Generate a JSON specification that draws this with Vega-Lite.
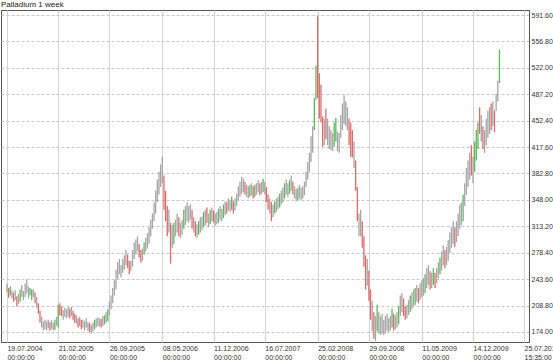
{
"$schema":"https://vega.github.io/schema/vega-lite/v6.json",
"width":528,"height":332,"autosize":"none",
"padding":{"left":1,"top":10,"right":24,"bottom":18},
"background":"#ffffff",
"title":{"text":"Palladium  1 week","anchor":"start","frame":"group","fontSize":8,"fontWeight":"normal","font":"Liberation Sans","color":"#222","offset":1},
"config":{"view":{"stroke":"#555","strokeWidth":1},"font":"Liberation Sans"},
"data":{"values":[
{"d":"2004-07-19","l":226,"h":238,"t":"n"},{"d":"2004-07-26","l":219,"h":232,"t":"d"},{"d":"2004-08-02","l":222,"h":234,"t":"u"},{"d":"2004-08-09","l":218,"h":229,"t":"n"},{"d":"2004-08-16","l":214,"h":226,"t":"d"},{"d":"2004-08-23","l":216,"h":229,"t":"n"},{"d":"2004-08-30","l":208,"h":221,"t":"d"},{"d":"2004-09-06","l":211,"h":224,"t":"n"},{"d":"2004-09-13","l":214,"h":230,"t":"u"},{"d":"2004-09-20","l":220,"h":236,"t":"n"},{"d":"2004-09-27","l":216,"h":228,"t":"n"},{"d":"2004-10-04","l":220,"h":238,"t":"n"},{"d":"2004-10-11","l":225,"h":243,"t":"n"},{"d":"2004-10-18","l":218,"h":234,"t":"n"},{"d":"2004-10-25","l":222,"h":232,"t":"u"},{"d":"2004-11-01","l":216,"h":230,"t":"u"},{"d":"2004-11-08","l":220,"h":230,"t":"n"},{"d":"2004-11-15","l":212,"h":226,"t":"d"},{"d":"2004-11-22","l":206,"h":220,"t":"n"},{"d":"2004-11-29","l":198,"h":212,"t":"d"},{"d":"2004-12-06","l":186,"h":202,"t":"d"},{"d":"2004-12-13","l":180,"h":194,"t":"n"},{"d":"2004-12-20","l":176,"h":188,"t":"n"},{"d":"2004-12-27","l":178,"h":190,"t":"n"},
{"d":"2005-01-03","l":176,"h":188,"t":"n"},{"d":"2005-01-10","l":179,"h":190,"t":"n"},{"d":"2005-01-17","l":176,"h":187,"t":"d"},{"d":"2005-01-24","l":178,"h":190,"t":"n"},{"d":"2005-01-31","l":176,"h":186,"t":"n"},{"d":"2005-02-07","l":177,"h":190,"t":"u"},{"d":"2005-02-14","l":182,"h":194,"t":"n"},{"d":"2005-02-21","l":180,"h":210,"t":"u"},{"d":"2005-02-28","l":196,"h":212,"t":"d"},{"d":"2005-03-07","l":195,"h":208,"t":"d"},{"d":"2005-03-14","l":190,"h":203,"t":"n"},{"d":"2005-03-21","l":194,"h":206,"t":"n"},{"d":"2005-03-28","l":192,"h":204,"t":"n"},{"d":"2005-04-04","l":194,"h":207,"t":"n"},{"d":"2005-04-11","l":192,"h":205,"t":"d"},{"d":"2005-04-18","l":195,"h":207,"t":"n"},{"d":"2005-04-25","l":190,"h":202,"t":"d"},{"d":"2005-05-02","l":186,"h":198,"t":"d"},{"d":"2005-05-09","l":185,"h":196,"t":"n"},{"d":"2005-05-16","l":180,"h":192,"t":"d"},{"d":"2005-05-23","l":182,"h":194,"t":"n"},{"d":"2005-05-30","l":178,"h":190,"t":"d"},{"d":"2005-06-06","l":180,"h":190,"t":"n"},{"d":"2005-06-13","l":176,"h":188,"t":"n"},{"d":"2005-06-20","l":180,"h":192,"t":"n"},{"d":"2005-06-27","l":176,"h":187,"t":"n"},{"d":"2005-07-04","l":174,"h":186,"t":"d"},{"d":"2005-07-11","l":172,"h":184,"t":"n"},{"d":"2005-07-18","l":175,"h":186,"t":"n"},{"d":"2005-07-25","l":178,"h":190,"t":"u"},{"d":"2005-08-01","l":180,"h":192,"t":"n"},{"d":"2005-08-08","l":182,"h":193,"t":"n"},{"d":"2005-08-15","l":181,"h":192,"t":"n"},{"d":"2005-08-22","l":180,"h":191,"t":"d"},{"d":"2005-08-29","l":182,"h":195,"t":"n"},{"d":"2005-09-05","l":184,"h":196,"t":"u"},{"d":"2005-09-12","l":186,"h":200,"t":"n"},{"d":"2005-09-19","l":188,"h":204,"t":"u"},{"d":"2005-09-26","l":196,"h":214,"t":"n"},{"d":"2005-10-03","l":204,"h":222,"t":"n"},{"d":"2005-10-10","l":212,"h":232,"t":"n"},{"d":"2005-10-17","l":222,"h":242,"t":"n"},{"d":"2005-10-24","l":230,"h":256,"t":"n"},{"d":"2005-10-31","l":244,"h":266,"t":"n"},{"d":"2005-11-07","l":250,"h":270,"t":"n"},{"d":"2005-11-14","l":246,"h":262,"t":"n"},{"d":"2005-11-21","l":252,"h":270,"t":"n"},{"d":"2005-11-28","l":256,"h":275,"t":"n"},{"d":"2005-12-05","l":262,"h":282,"t":"n"},{"d":"2005-12-12","l":258,"h":276,"t":"d"},{"d":"2005-12-19","l":250,"h":268,"t":"d"},{"d":"2005-12-26","l":254,"h":268,"t":"n"},
{"d":"2006-01-02","l":260,"h":282,"t":"n"},{"d":"2006-01-09","l":270,"h":292,"t":"n"},{"d":"2006-01-16","l":276,"h":296,"t":"n"},{"d":"2006-01-23","l":280,"h":300,"t":"n"},{"d":"2006-01-30","l":272,"h":290,"t":"d"},{"d":"2006-02-06","l":266,"h":282,"t":"d"},{"d":"2006-02-13","l":268,"h":284,"t":"n"},{"d":"2006-02-20","l":276,"h":292,"t":"u"},{"d":"2006-02-27","l":280,"h":298,"t":"n"},{"d":"2006-03-06","l":284,"h":304,"t":"n"},{"d":"2006-03-13","l":290,"h":312,"t":"n"},{"d":"2006-03-20","l":300,"h":322,"t":"n"},{"d":"2006-03-27","l":310,"h":330,"t":"n"},{"d":"2006-04-03","l":320,"h":345,"t":"n"},{"d":"2006-04-10","l":330,"h":360,"t":"n"},{"d":"2006-04-17","l":345,"h":375,"t":"n"},{"d":"2006-04-24","l":355,"h":385,"t":"n"},{"d":"2006-05-01","l":365,"h":395,"t":"n"},{"d":"2006-05-08","l":370,"h":405,"t":"n"},{"d":"2006-05-15","l":335,"h":380,"t":"d"},{"d":"2006-05-22","l":320,"h":360,"t":"d"},{"d":"2006-05-29","l":300,"h":340,"t":"d"},{"d":"2006-06-05","l":305,"h":335,"t":"n"},{"d":"2006-06-12","l":264,"h":318,"t":"d"},{"d":"2006-06-19","l":285,"h":315,"t":"n"},{"d":"2006-06-26","l":290,"h":318,"t":"u"},{"d":"2006-07-03","l":300,"h":322,"t":"n"},{"d":"2006-07-10","l":305,"h":330,"t":"n"},{"d":"2006-07-17","l":300,"h":325,"t":"d"},{"d":"2006-07-24","l":298,"h":318,"t":"n"},{"d":"2006-07-31","l":302,"h":322,"t":"n"},{"d":"2006-08-07","l":310,"h":335,"t":"u"},{"d":"2006-08-14","l":315,"h":340,"t":"n"},{"d":"2006-08-21","l":320,"h":345,"t":"n"},{"d":"2006-08-28","l":318,"h":340,"t":"n"},{"d":"2006-09-04","l":322,"h":342,"t":"n"},{"d":"2006-09-11","l":310,"h":335,"t":"d"},{"d":"2006-09-18","l":305,"h":325,"t":"n"},{"d":"2006-09-25","l":300,"h":320,"t":"d"},{"d":"2006-10-02","l":298,"h":316,"t":"n"},{"d":"2006-10-09","l":302,"h":320,"t":"u"},{"d":"2006-10-16","l":305,"h":325,"t":"n"},{"d":"2006-10-23","l":308,"h":326,"t":"n"},{"d":"2006-10-30","l":312,"h":332,"t":"u"},{"d":"2006-11-06","l":315,"h":335,"t":"n"},{"d":"2006-11-13","l":318,"h":338,"t":"d"},{"d":"2006-11-20","l":312,"h":330,"t":"n"},{"d":"2006-11-27","l":316,"h":335,"t":"u"},{"d":"2006-12-04","l":320,"h":338,"t":"n"},{"d":"2006-12-11","l":318,"h":334,"t":"d"},{"d":"2006-12-18","l":314,"h":330,"t":"n"},{"d":"2006-12-25","l":316,"h":332,"t":"n"},
{"d":"2007-01-01","l":318,"h":336,"t":"u"},{"d":"2007-01-08","l":322,"h":340,"t":"n"},{"d":"2007-01-15","l":320,"h":336,"t":"n"},{"d":"2007-01-22","l":324,"h":342,"t":"u"},{"d":"2007-01-29","l":328,"h":346,"t":"n"},{"d":"2007-02-05","l":330,"h":345,"t":"d"},{"d":"2007-02-12","l":334,"h":350,"t":"n"},{"d":"2007-02-19","l":332,"h":348,"t":"n"},{"d":"2007-02-26","l":335,"h":352,"t":"u"},{"d":"2007-03-05","l":330,"h":346,"t":"d"},{"d":"2007-03-12","l":334,"h":350,"t":"n"},{"d":"2007-03-19","l":340,"h":356,"t":"n"},{"d":"2007-03-26","l":348,"h":366,"t":"n"},{"d":"2007-04-02","l":352,"h":372,"t":"n"},{"d":"2007-04-09","l":356,"h":378,"t":"n"},{"d":"2007-04-16","l":358,"h":376,"t":"n"},{"d":"2007-04-23","l":355,"h":372,"t":"d"},{"d":"2007-04-30","l":352,"h":368,"t":"n"},{"d":"2007-05-07","l":350,"h":366,"t":"n"},{"d":"2007-05-14","l":352,"h":368,"t":"u"},{"d":"2007-05-21","l":354,"h":370,"t":"n"},{"d":"2007-05-28","l":350,"h":366,"t":"d"},{"d":"2007-06-04","l":352,"h":368,"t":"u"},{"d":"2007-06-11","l":355,"h":370,"t":"n"},{"d":"2007-06-18","l":358,"h":374,"t":"n"},{"d":"2007-06-25","l":354,"h":370,"t":"d"},{"d":"2007-07-02","l":356,"h":372,"t":"n"},{"d":"2007-07-09","l":358,"h":376,"t":"u"},{"d":"2007-07-16","l":355,"h":372,"t":"n"},{"d":"2007-07-23","l":345,"h":365,"t":"d"},{"d":"2007-07-30","l":335,"h":355,"t":"d"},{"d":"2007-08-06","l":330,"h":350,"t":"n"},{"d":"2007-08-13","l":320,"h":345,"t":"d"},{"d":"2007-08-20","l":325,"h":342,"t":"n"},{"d":"2007-08-27","l":330,"h":346,"t":"u"},{"d":"2007-09-03","l":332,"h":350,"t":"n"},{"d":"2007-09-10","l":336,"h":352,"t":"n"},{"d":"2007-09-17","l":338,"h":356,"t":"u"},{"d":"2007-09-24","l":342,"h":360,"t":"n"},{"d":"2007-10-01","l":345,"h":364,"t":"n"},{"d":"2007-10-08","l":350,"h":370,"t":"u"},{"d":"2007-10-15","l":355,"h":375,"t":"n"},{"d":"2007-10-22","l":352,"h":370,"t":"n"},{"d":"2007-10-29","l":356,"h":374,"t":"u"},{"d":"2007-11-05","l":360,"h":380,"t":"n"},{"d":"2007-11-12","l":355,"h":372,"t":"d"},{"d":"2007-11-19","l":350,"h":366,"t":"n"},{"d":"2007-11-26","l":346,"h":362,"t":"n"},{"d":"2007-12-03","l":348,"h":364,"t":"u"},{"d":"2007-12-10","l":350,"h":368,"t":"n"},{"d":"2007-12-17","l":348,"h":364,"t":"n"},{"d":"2007-12-24","l":350,"h":366,"t":"n"},{"d":"2007-12-31","l":354,"h":372,"t":"n"},
{"d":"2008-01-07","l":365,"h":385,"t":"n"},{"d":"2008-01-14","l":375,"h":398,"t":"n"},{"d":"2008-01-21","l":385,"h":410,"t":"n"},{"d":"2008-01-28","l":398,"h":432,"t":"n"},{"d":"2008-02-04","l":410,"h":445,"t":"n"},{"d":"2008-02-11","l":440,"h":482,"t":"u"},{"d":"2008-02-18","l":480,"h":525,"t":"u"},{"d":"2008-02-25","l":482,"h":590,"t":"d"},{"d":"2008-03-03","l":455,"h":515,"t":"d"},{"d":"2008-03-10","l":450,"h":500,"t":"d"},{"d":"2008-03-17","l":418,"h":458,"t":"d"},{"d":"2008-03-24","l":420,"h":455,"t":"n"},{"d":"2008-03-31","l":428,"h":468,"t":"d"},{"d":"2008-04-07","l":420,"h":455,"t":"n"},{"d":"2008-04-14","l":415,"h":445,"t":"n"},{"d":"2008-04-21","l":414,"h":440,"t":"n"},{"d":"2008-04-28","l":412,"h":436,"t":"n"},{"d":"2008-05-05","l":418,"h":450,"t":"u"},{"d":"2008-05-12","l":425,"h":456,"t":"u"},{"d":"2008-05-19","l":412,"h":438,"t":"n"},{"d":"2008-05-26","l":410,"h":436,"t":"n"},{"d":"2008-06-02","l":430,"h":460,"t":"n"},{"d":"2008-06-09","l":440,"h":475,"t":"n"},{"d":"2008-06-16","l":448,"h":486,"t":"n"},{"d":"2008-06-23","l":445,"h":478,"t":"n"},{"d":"2008-06-30","l":440,"h":470,"t":"n"},{"d":"2008-07-07","l":420,"h":455,"t":"d"},{"d":"2008-07-14","l":405,"h":450,"t":"d"},{"d":"2008-07-21","l":404,"h":440,"t":"d"},{"d":"2008-07-28","l":390,"h":425,"t":"n"},{"d":"2008-08-04","l":360,"h":400,"t":"d"},{"d":"2008-08-11","l":320,"h":365,"t":"d"},{"d":"2008-08-18","l":300,"h":330,"t":"n"},{"d":"2008-08-25","l":300,"h":335,"t":"n"},{"d":"2008-09-01","l":285,"h":320,"t":"d"},{"d":"2008-09-08","l":260,"h":300,"t":"d"},{"d":"2008-09-15","l":230,"h":275,"t":"d"},{"d":"2008-09-22","l":235,"h":270,"t":"n"},{"d":"2008-09-29","l":215,"h":255,"t":"d"},{"d":"2008-10-06","l":190,"h":230,"t":"d"},{"d":"2008-10-13","l":175,"h":215,"t":"n"},{"d":"2008-10-20","l":165,"h":200,"t":"d"},{"d":"2008-10-27","l":162,"h":195,"t":"n"},{"d":"2008-11-03","l":175,"h":210,"t":"u"},{"d":"2008-11-10","l":172,"h":200,"t":"n"},{"d":"2008-11-17","l":170,"h":195,"t":"n"},{"d":"2008-11-24","l":172,"h":198,"t":"n"},{"d":"2008-12-01","l":170,"h":190,"t":"n"},{"d":"2008-12-08","l":172,"h":195,"t":"n"},{"d":"2008-12-15","l":176,"h":198,"t":"n"},{"d":"2008-12-22","l":174,"h":192,"t":"n"},{"d":"2008-12-29","l":176,"h":195,"t":"n"},
{"d":"2009-01-05","l":180,"h":205,"t":"u"},{"d":"2009-01-12","l":176,"h":198,"t":"d"},{"d":"2009-01-19","l":178,"h":196,"t":"n"},{"d":"2009-01-26","l":180,"h":200,"t":"n"},{"d":"2009-02-02","l":184,"h":208,"t":"u"},{"d":"2009-02-09","l":195,"h":222,"t":"n"},{"d":"2009-02-16","l":200,"h":225,"t":"n"},{"d":"2009-02-23","l":195,"h":218,"t":"d"},{"d":"2009-03-02","l":190,"h":208,"t":"d"},{"d":"2009-03-09","l":192,"h":210,"t":"n"},{"d":"2009-03-16","l":196,"h":216,"t":"n"},{"d":"2009-03-23","l":200,"h":222,"t":"u"},{"d":"2009-03-30","l":204,"h":226,"t":"n"},{"d":"2009-04-06","l":208,"h":230,"t":"n"},{"d":"2009-04-13","l":210,"h":232,"t":"u"},{"d":"2009-04-20","l":214,"h":236,"t":"n"},{"d":"2009-04-27","l":212,"h":232,"t":"d"},{"d":"2009-05-04","l":216,"h":238,"t":"n"},{"d":"2009-05-11","l":220,"h":242,"t":"n"},{"d":"2009-05-18","l":222,"h":245,"t":"n"},{"d":"2009-05-25","l":225,"h":250,"t":"u"},{"d":"2009-06-01","l":232,"h":258,"t":"n"},{"d":"2009-06-08","l":236,"h":262,"t":"n"},{"d":"2009-06-15","l":230,"h":254,"t":"d"},{"d":"2009-06-22","l":232,"h":252,"t":"n"},{"d":"2009-06-29","l":236,"h":258,"t":"u"},{"d":"2009-07-06","l":232,"h":252,"t":"d"},{"d":"2009-07-13","l":238,"h":258,"t":"n"},{"d":"2009-07-20","l":245,"h":266,"t":"n"},{"d":"2009-07-27","l":250,"h":272,"t":"u"},{"d":"2009-08-03","l":255,"h":280,"t":"n"},{"d":"2009-08-10","l":262,"h":288,"t":"n"},{"d":"2009-08-17","l":258,"h":282,"t":"d"},{"d":"2009-08-24","l":262,"h":286,"t":"n"},{"d":"2009-08-31","l":268,"h":295,"t":"n"},{"d":"2009-09-07","l":278,"h":305,"t":"n"},{"d":"2009-09-14","l":285,"h":312,"t":"n"},{"d":"2009-09-21","l":290,"h":320,"t":"n"},{"d":"2009-09-28","l":286,"h":312,"t":"d"},{"d":"2009-10-05","l":292,"h":320,"t":"n"},{"d":"2009-10-12","l":300,"h":330,"t":"n"},{"d":"2009-10-19","l":310,"h":342,"t":"n"},{"d":"2009-10-26","l":315,"h":345,"t":"n"},{"d":"2009-11-02","l":320,"h":355,"t":"u"},{"d":"2009-11-09","l":340,"h":370,"t":"n"},{"d":"2009-11-16","l":355,"h":390,"t":"n"},{"d":"2009-11-23","l":365,"h":400,"t":"n"},{"d":"2009-11-30","l":375,"h":410,"t":"n"},{"d":"2009-12-07","l":380,"h":420,"t":"d"},{"d":"2009-12-14","l":370,"h":405,"t":"n"},{"d":"2009-12-21","l":385,"h":425,"t":"u"},{"d":"2009-12-28","l":400,"h":440,"t":"u"},
{"d":"2010-01-04","l":415,"h":450,"t":"u"},{"d":"2010-01-11","l":435,"h":470,"t":"d"},{"d":"2010-01-18","l":425,"h":460,"t":"n"},{"d":"2010-01-25","l":415,"h":445,"t":"d"},{"d":"2010-02-01","l":410,"h":440,"t":"n"},{"d":"2010-02-08","l":420,"h":455,"t":"n"},{"d":"2010-02-15","l":430,"h":465,"t":"n"},{"d":"2010-02-22","l":435,"h":470,"t":"n"},{"d":"2010-03-01","l":440,"h":475,"t":"d"},{"d":"2010-03-08","l":445,"h":478,"t":"n"},{"d":"2010-03-15","l":437,"h":466,"t":"d"},{"d":"2010-03-22","l":465,"h":488,"t":"n"},{"d":"2010-03-29","l":478,"h":505,"t":"n"},{"d":"2010-04-05","l":502,"h":546,"t":"u"}
]},
"mark":{"type":"bar","width":1.3},
"encoding":{
"x":{"field":"d","type":"temporal","scale":{"type":"utc","domain":[{"year":2004,"month":7,"date":15,"utc":true},{"year":2010,"month":7,"date":18,"utc":true}]},
"axis":{"title":null,"values":[{"year":2004,"month":7,"date":19,"utc":true},{"year":2005,"month":2,"date":21,"utc":true},{"year":2005,"month":9,"date":26,"utc":true},{"year":2006,"month":5,"date":8,"utc":true},{"year":2006,"month":12,"date":11,"utc":true},{"year":2007,"month":7,"date":16,"utc":true},{"year":2008,"month":2,"date":25,"utc":true},{"year":2008,"month":9,"date":29,"utc":true},{"year":2009,"month":5,"date":11,"utc":true},{"year":2009,"month":12,"date":14,"utc":true},{"year":2010,"month":7,"date":18,"utc":true}],
"labelExpr":"utcFormat(datum.value,'%Y')=='2010' ? ['25.07.2010','15:35:00'] : [utcFormat(datum.value,'%d.%m.%Y'),'00:00:00']",
"labelAlign":"left","labelBaseline":"top","labelFontSize":7,"labelLineHeight":9,"labelColor":"#333","labelPadding":2,"labelOverlap":false,"labelFlush":false,"ticks":false,"domain":false,
"grid":true,"gridColor":"#d4d4d4","gridWidth":1}},
"y":{"field":"l","type":"quantitative","scale":{"domain":[160.8,598.2],"nice":false,"zero":false},
"axis":{"title":null,"orient":"right","values":[174,208.8,243.6,278.4,313.2,348,382.8,417.6,452.4,487.2,522,556.8,591.6],"format":".2f","labelFontSize":7,"labelColor":"#333","labelPadding":2,"ticks":false,"domain":true,"domainColor":"#555","labelOverlap":false,"labelFlush":false,
"grid":true,"gridColor":"#c8c8c8","gridDash":[3,2],"gridWidth":1}},
"y2":{"field":"h"},
"color":{"field":"t","type":"nominal","scale":{"domain":["n","d","u"],"range":["#a6a6a6","#e06a6a","#5cb85c"]},"legend":null}
}
}
